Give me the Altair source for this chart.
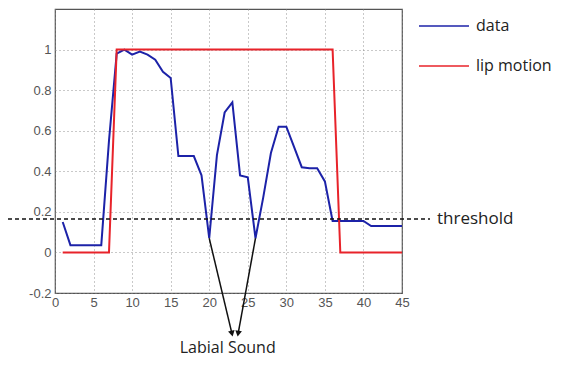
import altair as alt
import pandas as pd

# ---- data ----
frames = list(range(1, 46))
data_vals = [0.15, 0.036, 0.036, 0.036, 0.036, 0.036, 0.55, 0.98, 1.0, 0.975,
             0.99, 0.975, 0.95, 0.89, 0.86, 0.475, 0.475, 0.475, 0.38, 0.07,
             0.48, 0.69, 0.74, 0.38, 0.37, 0.07, 0.27, 0.49, 0.62, 0.62,
             0.52, 0.42, 0.415, 0.415, 0.35, 0.155, 0.155, 0.155, 0.155, 0.155,
             0.13, 0.13, 0.13, 0.13, 0.13]
lip_vals = [0, 0, 0, 0, 0, 0, 0] + [1] * 29 + [0] * 9
series_names = ["data", "lip motion"]
series_colors = ["#1c22a8", "#e8232a"]

threshold = 0.165
threshold_label = "threshold"

# annotation arrows: start (dip points) -> end (below axis)
arrow_x0 = [20, 26]
arrow_y0 = [0.07, 0.07]
arrow_x1 = [22.95, 23.75]
arrow_y1 = [-0.40, -0.40]
arrow_angle = [347, 10]
annot_text = "Labial Sound"
annot_x = 22.4
annot_y = -0.47

x_ticks = list(range(0, 46, 5))
y_ticks = [-0.2, 0, 0.2, 0.4, 0.6, 0.8, 1.0]

rows = []
for f, v in zip(frames, data_vals):
    rows.append({"frame": f, "value": v, "series": series_names[0]})
for f, v in zip(frames, lip_vals):
    rows.append({"frame": f, "value": v, "series": series_names[1]})
df = pd.DataFrame(rows)

xs = alt.Scale(domain=[0, 45], nice=False, zero=False)
ys = alt.Scale(domain=[-0.2, 1.2], nice=False, zero=False)

xax = alt.Axis(values=x_ticks, grid=True, gridDash=[1, 3], gridColor="#888888",
               gridOpacity=0.9, ticks=False, domain=False, labelColor="#555555",
               labelFont="Liberation Sans", labelFontSize=13, labelPadding=3, title=None,
               labelFlush=False, labelOverlap=False)
yax = alt.Axis(values=y_ticks, grid=True, gridDash=[1, 3], gridColor="#888888",
               gridOpacity=0.9, ticks=False, domain=False, labelColor="#555555",
               labelFont="Liberation Sans", labelFontSize=13, labelPadding=4, title=None,
               labelOverlap=False,
               labelExpr="toString(round(datum.value*10)/10)")

lines = alt.Chart(df).mark_line(strokeWidth=2).encode(
    x=alt.X("frame:Q", scale=xs, axis=xax),
    y=alt.Y("value:Q", scale=ys, axis=yax),
    color=alt.Color("series:N",
                    scale=alt.Scale(domain=series_names[::-1], range=series_colors[::-1]),
                    sort=series_names[::-1],
                    legend=alt.Legend(orient="none", legendX=363, legendY=7, title=None,
                                      symbolType="stroke", symbolSize=2500,
                                      symbolStrokeWidth=1.5, labelFontSize=16,
                                      labelFont="Open Sans", labelColor="#222222",
                                      labelOffset=6, clipHeight=20, rowPadding=20,
                                      values=series_names)),
    order=alt.Order("series:N", sort="descending"),
)

thr_df = pd.DataFrame({"y": [threshold], "label": [threshold_label]})
thr_rule = alt.Chart(thr_df).mark_rule(color="#111111", strokeWidth=1.6,
                                       strokeDash=[4, 3], clip=False).encode(
    y=alt.Y("y:Q", scale=ys, axis=yax),
    x=alt.value(-47), x2=alt.value(375),
)
thr_text = alt.Chart(thr_df).mark_text(align="left", baseline="middle", fontSize=17,
                                       font="Open Sans", color="#222222",
                                       clip=False).encode(
    y=alt.Y("y:Q", scale=ys, axis=yax), x=alt.value(382), text="label:N")

arr_df = pd.DataFrame({"x0": arrow_x0, "y0": arrow_y0, "x1": arrow_x1,
                       "y1": arrow_y1, "ang": arrow_angle})
arr_lines = alt.Chart(arr_df).mark_rule(color="#111111", strokeWidth=1.5,
                                        clip=False).encode(
    x=alt.X("x0:Q", scale=xs, axis=xax), y=alt.Y("y0:Q", scale=ys, axis=yax),
    x2="x1:Q", y2="y1:Q")
arr_heads = alt.Chart(arr_df).mark_point(shape="triangle-down", filled=True,
                                         color="#111111", size=45, opacity=1,
                                         clip=False).encode(
    x=alt.X("x1:Q", scale=xs, axis=xax), y=alt.Y("y1:Q", scale=ys, axis=yax),
    angle=alt.Angle("ang:Q", scale=None))

ann_df = pd.DataFrame({"x": [annot_x], "y": [annot_y], "t": [annot_text]})
ann_text = alt.Chart(ann_df).mark_text(align="center", baseline="middle", fontSize=16,
                                       font="Open Sans", color="#222222",
                                       clip=False).encode(
    x=alt.X("x:Q", scale=xs, axis=xax), y=alt.Y("y:Q", scale=ys, axis=yax),
    text="t:N")

chart = alt.layer(lines, thr_rule, thr_text, arr_lines, arr_heads, ann_text).properties(
    width=347, height=284,
    background="white",
    autosize=alt.AutoSizeParams(type="none"),
    padding={"left": 47, "top": 1, "right": 155, "bottom": 66},
).configure_view(stroke="#555555", strokeWidth=1.2)

chart.save("out.html", embed_options={"renderer": "svg", "actions": False})
